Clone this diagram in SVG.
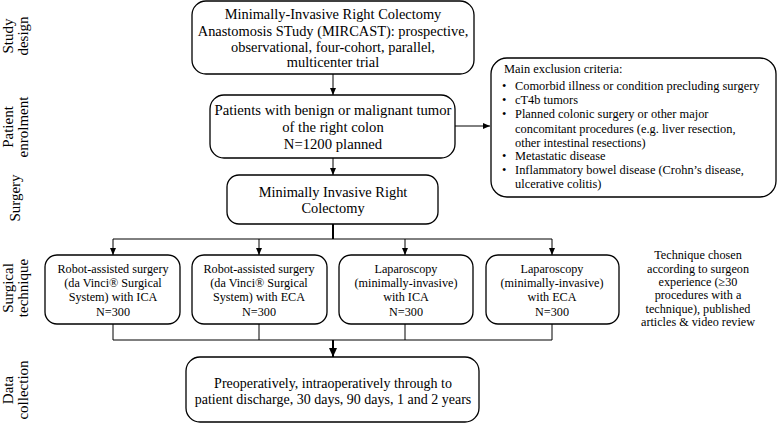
<svg xmlns="http://www.w3.org/2000/svg" width="778" height="424" viewBox="0 0 778 424" font-family="Liberation Serif, Times New Roman, DejaVu Serif, serif">
<style>
.box{fill:#fff;stroke:#000;stroke-width:1.3}
.c{text-anchor:middle}
.m{font-size:14.4px}
.s{font-size:12.2px}
.x{font-size:12.4px}
.l{font-size:15px;text-anchor:middle}
.ln{fill:none;stroke:#000;stroke-width:1}
.th{fill:none;stroke:#000;stroke-width:2}
</style>
<defs>
<marker id="ah" markerWidth="8" markerHeight="8" refX="7" refY="4" orient="auto" markerUnits="userSpaceOnUse">
<path d="M0,1 L7,4 L0,7 Z" fill="#000"/>
</marker>
<marker id="ahb" markerWidth="10" markerHeight="10" refX="9" refY="5" orient="auto" markerUnits="userSpaceOnUse">
<path d="M0,1 L9,5 L0,9 Z" fill="#000"/>
</marker>
</defs>
<rect width="778" height="424" fill="#fff"/>
<g font-family="Liberation Serif, Times New Roman, DejaVu Serif, serif" fill="#000">

<g id="labels">
<g transform="translate(0,36) rotate(-90)"><text class="l" x="0" y="13">Study</text><text class="l" x="0" y="28">design</text></g>
<g transform="translate(0,127) rotate(-90)"><text class="l" x="0" y="13">Patient</text><text class="l" x="0" y="28">enrolment</text></g>
<g transform="translate(0,198) rotate(-90)"><text class="l" x="0" y="20">Surgery</text></g>
<g transform="translate(0,288) rotate(-90)"><text class="l" x="0" y="13">Surgical</text><text class="l" x="0" y="28">technique</text></g>
<g transform="translate(0,390) rotate(-90)"><text class="l" x="0" y="13">Data</text><text class="l" x="0" y="28">collection</text></g>
</g>

<g id="connectors">
<line class="ln" x1="333" y1="74" x2="333" y2="95" marker-end="url(#ah)"/>
<line class="ln" x1="333" y1="158" x2="333" y2="175" marker-end="url(#ah)"/>
<line class="ln" x1="455" y1="126" x2="490" y2="126" marker-end="url(#ah)"/>
<line class="th" x1="333" y1="224" x2="333" y2="239"/>
<line class="ln" x1="113" y1="239" x2="552" y2="239"/>
<line class="ln" x1="113" y1="239" x2="113" y2="255" marker-end="url(#ah)"/>
<line class="ln" x1="259" y1="239" x2="259" y2="255" marker-end="url(#ah)"/>
<line class="ln" x1="405" y1="239" x2="405" y2="255" marker-end="url(#ah)"/>
<line class="ln" x1="552" y1="239" x2="552" y2="255" marker-end="url(#ah)"/>
<polyline class="ln" points="113,324 113,340 552,340 552,324"/>
<line class="ln" x1="259" y1="324" x2="259" y2="340"/>
<line class="ln" x1="405" y1="324" x2="405" y2="340"/>
<line class="th" x1="333" y1="340" x2="333" y2="357" marker-end="url(#ahb)"/>
</g>

<g id="study">
<rect class="box" x="192" y="1" width="282" height="73" rx="14"/>
<text class="m c" x="333" y="19">Minimally-Invasive Right Colectomy</text>
<text class="m c" x="333" y="36">Anastomosis STudy (MIRCAST): prospective,</text>
<text class="m c" x="333" y="52">observational, four-cohort, parallel,</text>
<text class="m c" x="333" y="67">multicenter trial</text>
</g>

<g id="enrolment">
<rect class="box" x="210" y="95" width="245" height="63" rx="14"/>
<text class="c" font-size="14.7" x="333" y="115">Patients with benign or malignant tumor</text>
<text class="c" font-size="14.7" x="333" y="132">of the right colon</text>
<text class="c" font-size="14.7" x="333" y="149">N=1200 planned</text>
</g>

<g id="exclusion">
<rect class="box" x="491" y="58" width="285" height="139" rx="16"/>
<text class="x" x="504" y="73">Main exclusion criteria:</text>
<g class="x">
<text x="502" y="90">•</text><text x="515" y="90">Comorbid illness or condition precluding surgery</text>
<text x="502" y="104">•</text><text x="515" y="104">cT4b tumors</text>
<text x="502" y="118">•</text><text x="515" y="118">Planned colonic surgery or other major</text>
<text x="515" y="132.5">concomitant procedures (e.g. liver resection,</text>
<text x="515" y="146.5">other intestinal resections)</text>
<text x="502" y="160">•</text><text x="515" y="160">Metastatic disease</text>
<text x="502" y="174">•</text><text x="515" y="174">Inflammatory bowel disease (Crohn’s disease,</text>
<text x="515" y="188">ulcerative colitis)</text>
</g>
</g>

<g id="surgery">
<rect class="box" x="227" y="175" width="211" height="49" rx="12"/>
<text class="m c" x="333" y="197">Minimally Invasive Right</text>
<text class="m c" x="333" y="213">Colectomy</text>
</g>

<g id="robot-ica">
<rect class="box" x="45" y="255" width="135" height="69" rx="12"/>
<text class="s c" x="113" y="273">Robot-assisted surgery</text>
<text class="s c" x="113" y="287">(da Vinci® Surgical</text>
<text class="s c" x="113" y="301">System) with ICA</text>
<text class="s c" x="113" y="316">N=300</text>
</g>

<g id="robot-eca">
<rect class="box" x="192" y="255" width="135" height="69" rx="12"/>
<text class="s c" x="259" y="273">Robot-assisted surgery</text>
<text class="s c" x="259" y="287">(da Vinci® Surgical</text>
<text class="s c" x="259" y="301">System) with ECA</text>
<text class="s c" x="259" y="316">N=300</text>
</g>

<g id="lap-ica">
<rect class="box" x="339" y="255" width="134" height="69" rx="12"/>
<text class="s c" x="406" y="273">Laparoscopy</text>
<text class="s c" x="406" y="287">(minimally-invasive)</text>
<text class="s c" x="406" y="301">with ICA</text>
<text class="s c" x="406" y="316">N=300</text>
</g>

<g id="lap-eca">
<rect class="box" x="486" y="255" width="133" height="69" rx="12"/>
<text class="s c" x="552" y="273">Laparoscopy</text>
<text class="s c" x="552" y="287">(minimally-invasive)</text>
<text class="s c" x="552" y="301">with ECA</text>
<text class="s c" x="552" y="316">N=300</text>
</g>

<g id="technique-note">
<text class="s c" x="698" y="259">Technique chosen</text>
<text class="s c" x="698" y="272.5">according to surgeon</text>
<text class="s c" x="698" y="286">experience (≥30</text>
<text class="s c" x="698" y="299">procedures with a</text>
<text class="s c" x="698" y="312.5">technique), published</text>
<text class="s c" x="698" y="326">articles &amp; video review</text>
</g>

<g id="data">
<rect class="box" x="186" y="357" width="293" height="65" rx="14"/>
<text class="c" font-size="14" x="333" y="388">Preoperatively, intraoperatively through to</text>
<text class="c" font-size="14" x="333" y="404">patient discharge, 30 days, 90 days, 1 and 2 years</text>
</g>
</g>
</svg>
